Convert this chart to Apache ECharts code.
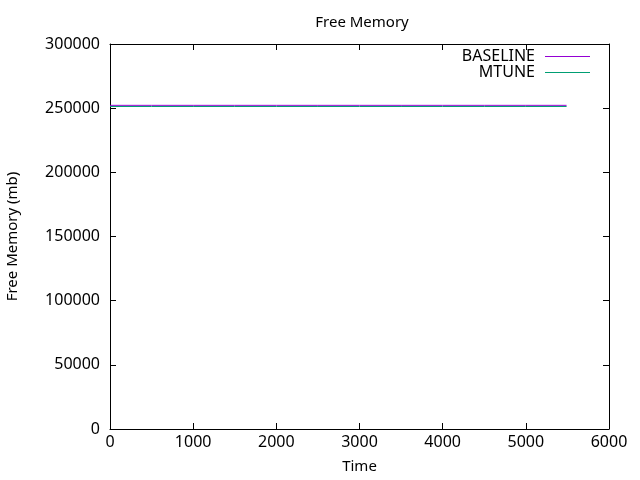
<!DOCTYPE html>
<html><head><meta charset="utf-8">
<script src="https://cdn.jsdelivr.net/npm/echarts@6/dist/echarts.min.js"></script>
<style>html,body{margin:0;padding:0;background:#fff}#c{width:640px;height:480px}</style>
</head><body><div id="c"></div>
<script>
var times = [0, 500, 1000, 1500, 2000, 2500, 3000, 3500, 4000, 4500, 5000, 5490];
var baseline = [252200, 252200, 252200, 252200, 252200, 252200, 252200, 252200, 252200, 252200, 252200, 252200];
var mtune = [251300, 251300, 251300, 251300, 251300, 251300, 251300, 251300, 251300, 251300, 251300, 251300];
var xTicks = [0, 1000, 2000, 3000, 4000, 5000, 6000];
var yTicks = [0, 50000, 100000, 150000, 200000, 250000, 300000];

var FONT = 'Noto Sans';
function pairs(xs, ys){ return xs.map(function(x,i){ return [x, ys[i]]; }); }
var chart = echarts.init(document.getElementById('c'), null, {renderer:'canvas'});
var axisCommon = {
  axisLine:{show:true, onZero:false, lineStyle:{color:'#000', width:1}},
  axisTick:{show:true, inside:true, length:6, lineStyle:{color:'#000'}},
  splitLine:{show:false}
};
chart.setOption({
  animation:false,
  title:{text:'Free Memory', left:357, textAlign:'center', top:10, textStyle:{fontFamily:FONT, fontSize:15, fontWeight:'normal', color:'#000'}},
  legend:[
    {data:[{name:'BASELINE'}], right:50, top:48.5, orient:'vertical', align:'right', icon:'rect', itemWidth:45, itemHeight:1, padding:0,
     textStyle:{fontFamily:FONT, fontSize:16, color:'#000', padding:[0,5,0,0]}},
    {data:[{name:'MTUNE'}], right:50, top:64.5, orient:'vertical', align:'right', icon:'rect', itemWidth:45, itemHeight:1, padding:0,
     textStyle:{fontFamily:FONT, fontSize:16, color:'#000', padding:[0,5,0,0]}}
  ],
  grid:{left:110, right:31, top:44, bottom:51, containLabel:false, outerBoundsMode:'none'},
  xAxis:[
    Object.assign({type:'value', min:0, max:6000, interval:1000, position:'bottom',
      name:'Time', nameLocation:'middle', nameGap:30,
      nameTextStyle:{fontFamily:FONT, fontSize:15, color:'#000'},
      axisLabel:{fontFamily:FONT, fontSize:16, color:'#000', margin:5,
        formatter:function(v){ return xTicks.indexOf(v) >= 0 ? String(v) : ''; }}}, axisCommon),
    Object.assign({type:'value', min:0, max:6000, interval:1000, position:'top', axisLabel:{show:false}}, axisCommon)
  ],
  yAxis:[
    Object.assign({type:'value', min:0, max:300000, interval:50000, position:'left',
      name:'Free Memory (mb)', nameLocation:'middle', nameGap:90,
      nameTextStyle:{fontFamily:FONT, fontSize:15, color:'#000'},
      axisLabel:{fontFamily:FONT, fontSize:16, color:'#000', margin:10,
        formatter:function(v){ return yTicks.indexOf(v) >= 0 ? String(v) : ''; }}}, axisCommon),
    Object.assign({type:'value', min:0, max:300000, interval:50000, position:'right', axisLabel:{show:false}}, axisCommon)
  ],
  series:[
    {name:'BASELINE', type:'line', data:pairs(times, baseline), showSymbol:false, symbol:'none',
     lineStyle:{color:'#9400d3', width:1}, itemStyle:{color:'#9400d3'}},
    {name:'MTUNE', type:'line', data:pairs(times, mtune), showSymbol:false, symbol:'none',
     lineStyle:{color:'#009e73', width:1}, itemStyle:{color:'#009e73'}}
  ]
});
</script></body></html>
